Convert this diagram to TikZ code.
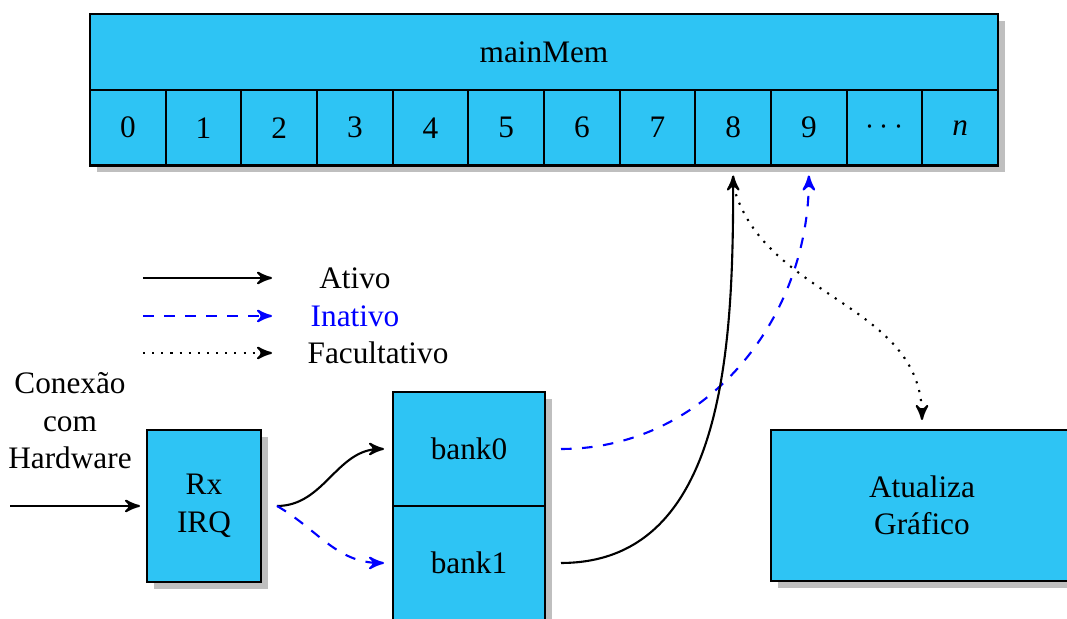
\documentclass[tikz,border=0pt]{standalone}
\usepackage{fontspec}
\setmainfont{Liberation Serif}
\usetikzlibrary{shapes, shapes.misc}
\usetikzlibrary{arrows}
\usetikzlibrary{calc}
\usetikzlibrary{positioning}
\usetikzlibrary{shadows}
\definecolor{memblue}{RGB}{46,196,244}
\tikzset{
    blk/.style={draw, rectangle, fill=memblue, inner sep=0pt, outer sep=0pt,
        drop shadow={fill=black!25, opacity=1, shadow xshift=0.07cm,
            shadow yshift=-0.07cm}},
}

\begin{document}
\begin{tikzpicture}[>=stealth', semithick, font=\fontsize{8.9}{10.7}\selectfont]
    \useasboundingbox (0,0) rectangle (10.67,6.19);
    \node[blk, anchor=north west, minimum width=9.08cm, minimum height=0.76cm]
        (mem) at (0.90,6.05) {mainMem};
    \foreach \lbl [count=\i from 0] in {0,1,2,3,4,5,6,7,8,9,$\cdots$,\textit{n}}
        \node[blk, anchor=north west, minimum width=0.7567cm,
            minimum height=0.755cm] (m\i) at ([xshift=\i*0.7567cm]mem.south west)
            {\lbl};

    \coordinate (ativoA) at (1.43,3.41);
    \coordinate (ativoB) at (2.72,3.41);
    \coordinate (inatA) at (1.43,3.03);
    \coordinate (inatB) at (2.72,3.03);
    \coordinate (factA) at (1.43,2.66);
    \coordinate (factB) at (2.72,2.66);
    \node (ativo) at (3.55,3.41) {Ativo};
    \node[blue] (inat) at (3.55,3.03) {Inativo};
    \node (fact) at (3.78,2.66) {Facultativo};
    \draw[->] (ativoA) -- (ativoB);
    \draw[->, blue, dashed] (inatA) -- (inatB);
    \draw[->, dotted] (factA) -- (factB);

    \node[align=center] (hw) at (0.70,1.98) {Conexão\\com\\Hardware};
    \coordinate (hwin) at (0.10,1.13);
    \node[blk, minimum width=1.14cm, minimum height=1.52cm, align=center]
        (rx) at (2.04,1.13) {Rx\\IRQ};
    \node[blk, minimum width=1.52cm, minimum height=1.14cm]
        (bank0) at (4.69,1.70) {bank0};
    \node[blk, minimum width=1.52cm, minimum height=1.14cm, below=0 of bank0]
        (bank1) {bank1};
    \node[blk, minimum width=3.02cm, minimum height=1.51cm, align=center]
        (upd) at (9.22,1.135) {Atualiza\\Gráfico};

    \draw[->] (hwin) -- ([xshift=-0.07cm]rx.west);
    \draw[->] ([xshift=0.16cm]rx.east) to[out=0, in=180]
        ([xshift=-0.09cm]bank0.west);
    \draw[->, blue, dashed] ([xshift=0.16cm]rx.east) to[out=-30, in=180]
        ([xshift=-0.09cm]bank1.west);
    \draw[->, blue, dashed] ([xshift=0.16cm]bank0.east) to[out=0, in=-90]
        ([yshift=-0.1cm]m9.south);
    \draw[->] ([xshift=0.16cm]bank1.east) to[out=0, in=-90]
        ([yshift=-0.1cm]m8.south);
    \draw[->, dotted] ([yshift=-0.2cm]m8.south) to[out=-75, in=90]
        ([yshift=0.1cm]upd.north);
\end{tikzpicture}
\end{document}
